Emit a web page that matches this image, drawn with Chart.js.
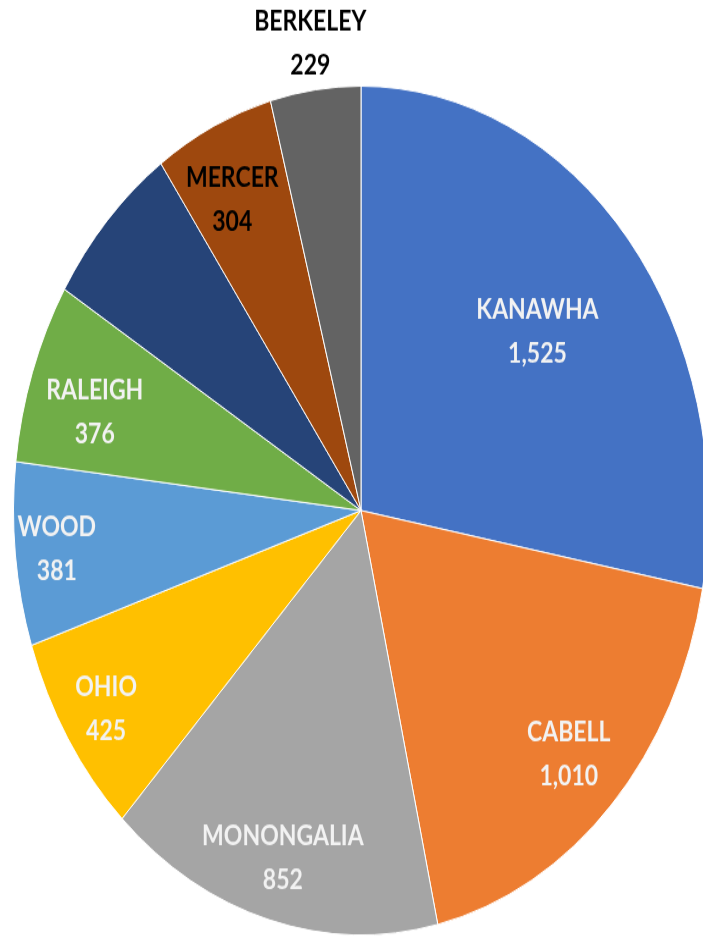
<!DOCTYPE html>
<html>
<head>
<meta charset="utf-8">
<script src="https://cdn.jsdelivr.net/npm/chart.js@4"></script>
<style>
    html, body { margin: 0; padding: 0; background: #fff; overflow: hidden; }
    #wrap {
        position: absolute; left: 0; top: 0;
        width: 722px; height: 776px;
        transform: scaleY(1.2213);
        transform-origin: 0 0;
    }
</style>
</head>
<body>
<div id="wrap"><canvas id="pieChart"></canvas></div>
<script>
const counties = ['KANAWHA', 'CABELL', 'MONONGALIA', 'OHIO', 'WOOD', 'RALEIGH', '', 'MERCER', 'BERKELEY'];
const cases = [1525, 1010, 852, 425, 381, 376, 355, 304, 229];
const sliceColors = ['#4472C4', '#ED7D31', '#A5A5A5', '#FFC000', '#5B9BD5', '#70AD47', '#264478', '#9E480E', '#636363'];
const labelColors = ['#f2f2f2', '#f2f2f2', '#f2f2f2', '#f2f2f2', '#f2f2f2', '#f2f2f2', '#f2f2f2', '#000', '#000'];

// where each label sits: share of the radius, and a small turn (radians)
const labelRadius = [0.66, 0.83, 0.85, 0.87, 0.88, 0.80, 0, 0.82, 1.11];
const labelTurn = [0, 0, 0, 0, 0, -0.04, 0, -0.03, 0];

const labelPlugin = {
    id: 'sliceLabels',
    afterDatasetsDraw(chart) {
        const ctx = chart.ctx;
        const arcs = chart.getDatasetMeta(0).data;
        ctx.save();
        ctx.font = 'bold 23px Lato';
        ctx.textAlign = 'center';
        ctx.textBaseline = 'middle';
        arcs.forEach((arc, i) => {
            if (!counties[i]) return;
            const mid = (arc.startAngle + arc.endAngle) / 2 + labelTurn[i];
            const r = arc.outerRadius * labelRadius[i];
            const x = arc.x + Math.cos(mid) * r;
            const y = arc.y + Math.sin(mid) * r;
            ctx.fillStyle = labelColors[i];
            ctx.fillText(counties[i], x, y - 18);
            ctx.fillText(cases[i].toLocaleString('en-US'), x, y + 18);
        });
        ctx.restore();
    }
};

new Chart(document.getElementById('pieChart'), {
    type: 'pie',
    data: {
        labels: counties,
        datasets: [{
            data: cases,
            backgroundColor: sliceColors,
            borderColor: '#ffffff',
            borderWidth: 1
        }]
    },
    options: {
        responsive: true,
        maintainAspectRatio: false,
        animation: false,
        layout: { padding: { left: 13, right: 13, top: 70, bottom: 10 } },
        plugins: {
            legend: { display: false },
            tooltip: { enabled: false }
        }
    },
    plugins: [labelPlugin]
});
</script>
</body>
</html>
